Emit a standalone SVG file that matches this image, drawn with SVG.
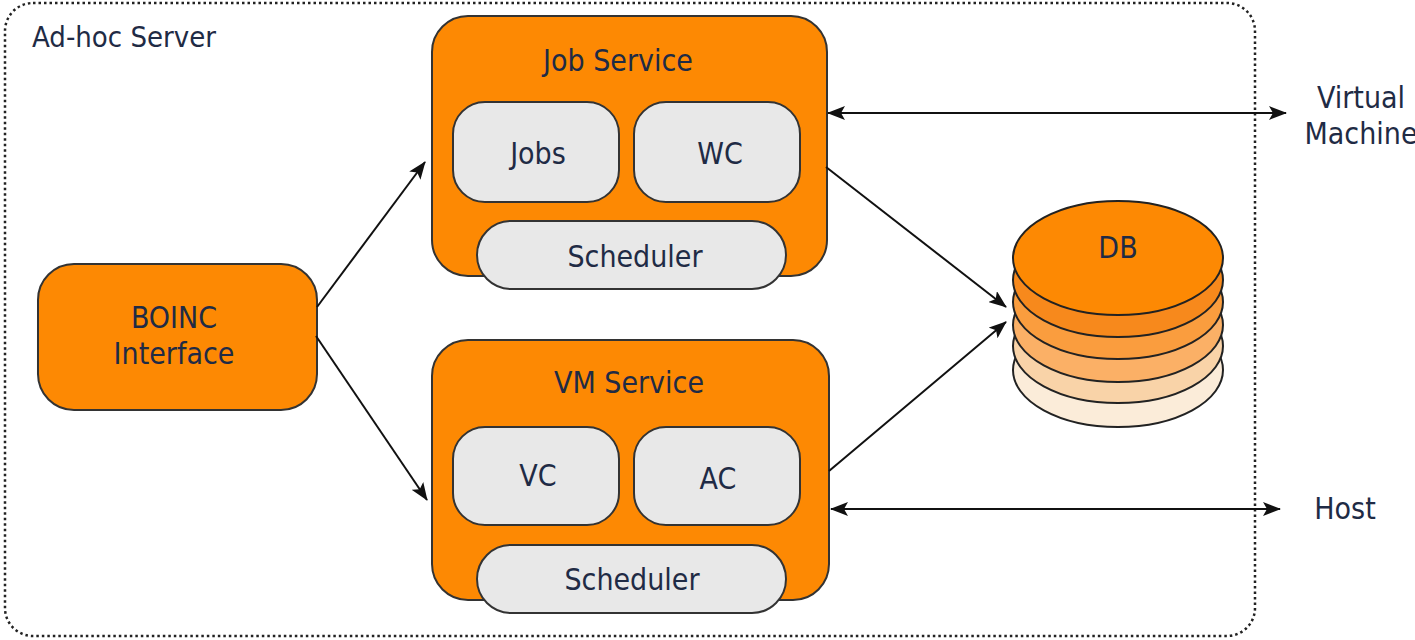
<svg xmlns="http://www.w3.org/2000/svg" width="1415" height="640" viewBox="0 0 1415 640">
<style>
text{font-family:"DejaVu Sans Condensed","DejaVu Sans",sans-serif;fill:#1f2b45;text-anchor:middle}
.big{fill:#fd8903;stroke:#333;stroke-width:2}
.sub{fill:#e8e8e8;stroke:#333;stroke-width:2}
.t{font-size:30px}
.conn{stroke:#111;stroke-width:2;fill:none}
.db{stroke:#222;stroke-width:2}
</style>
<defs>
<marker id="ah" viewBox="0 0 18 14" refX="17" refY="7" markerWidth="18" markerHeight="14" markerUnits="userSpaceOnUse" orient="auto-start-reverse">
<path d="M0,0 L18,7 L0,14 L4,7 z" fill="#111"/>
</marker>
</defs>
<rect id="adhoc" x="5" y="3" width="1250" height="633" rx="28" fill="none" stroke="#222" stroke-width="2.5" stroke-dasharray="2.5 3"/>
<text x="32" y="47" class="t" style="text-anchor:start;font-size:29px">Ad-hoc Server</text>

<g id="boinc">
<rect class="big" x="38" y="264" width="279" height="146" rx="36"/>
<text x="174" y="328" class="t">BOINC</text>
<text x="174" y="364" class="t">Interface</text>
</g>

<g id="job-service">
<rect class="big" x="432" y="16" width="395" height="260" rx="36"/>
<text x="618" y="71" class="t">Job Service</text>
<g id="jobs"><rect class="sub" x="453" y="102" width="166" height="100" rx="32"/><text x="538" y="164" class="t">Jobs</text></g>
<g id="wc"><rect class="sub" x="634" y="102" width="166" height="100" rx="32"/><text x="720" y="164" class="t">WC</text></g>
<g id="job-scheduler"><rect class="sub" x="477" y="221" width="309" height="68" rx="34"/><text x="635" y="267" class="t">Scheduler</text></g>
</g>

<g id="vm-service">
<rect class="big" x="432" y="340" width="397" height="260" rx="36"/>
<text x="629" y="393" class="t">VM Service</text>
<g id="vc"><rect class="sub" x="453" y="427" width="166" height="98" rx="32"/><text x="538" y="486" class="t">VC</text></g>
<g id="ac"><rect class="sub" x="634" y="427" width="166" height="98" rx="32"/><text x="718" y="489" class="t">AC</text></g>
<g id="vm-scheduler"><rect class="sub" x="477" y="545" width="309" height="68" rx="34"/><text x="632" y="590" class="t">Scheduler</text></g>
</g>

<g id="db">
<ellipse class="db" cx="1118" cy="370" rx="105" ry="57" fill="#fbecd9"/>
<ellipse class="db" cx="1118" cy="346" rx="105" ry="57" fill="#f9d3a8"/>
<ellipse class="db" cx="1118" cy="325" rx="105" ry="57" fill="#fbb066"/>
<ellipse class="db" cx="1118" cy="302" rx="105" ry="57" fill="#fa9d3e"/>
<ellipse class="db" cx="1118" cy="280" rx="105" ry="57" fill="#f7891c"/>
<ellipse class="db" cx="1118" cy="258" rx="105" ry="57" fill="#fd8903"/>
<text x="1118" y="258" class="t">DB</text>
</g>

<g id="virtual-machine">
<text x="1361" y="108" class="t">Virtual</text>
<text x="1361" y="144" class="t">Machine</text>
</g>
<g id="host">
<text x="1345" y="519" class="t">Host</text>
</g>

<g id="connectors">
<line class="conn" x1="317" y1="307" x2="425" y2="162" marker-end="url(#ah)"/>
<line class="conn" x1="316" y1="336" x2="427" y2="500" marker-end="url(#ah)"/>
<line class="conn" x1="826" y1="167" x2="1006" y2="307" marker-end="url(#ah)"/>
<line class="conn" x1="829" y1="471" x2="1006" y2="322" marker-end="url(#ah)"/>
<line class="conn" x1="828" y1="113" x2="1286" y2="113" marker-start="url(#ah)" marker-end="url(#ah)"/>
<line class="conn" x1="831" y1="509" x2="1280" y2="509" stroke="#555" stroke-width="2.5" marker-start="url(#ah)" marker-end="url(#ah)"/>
</g>
</svg>
